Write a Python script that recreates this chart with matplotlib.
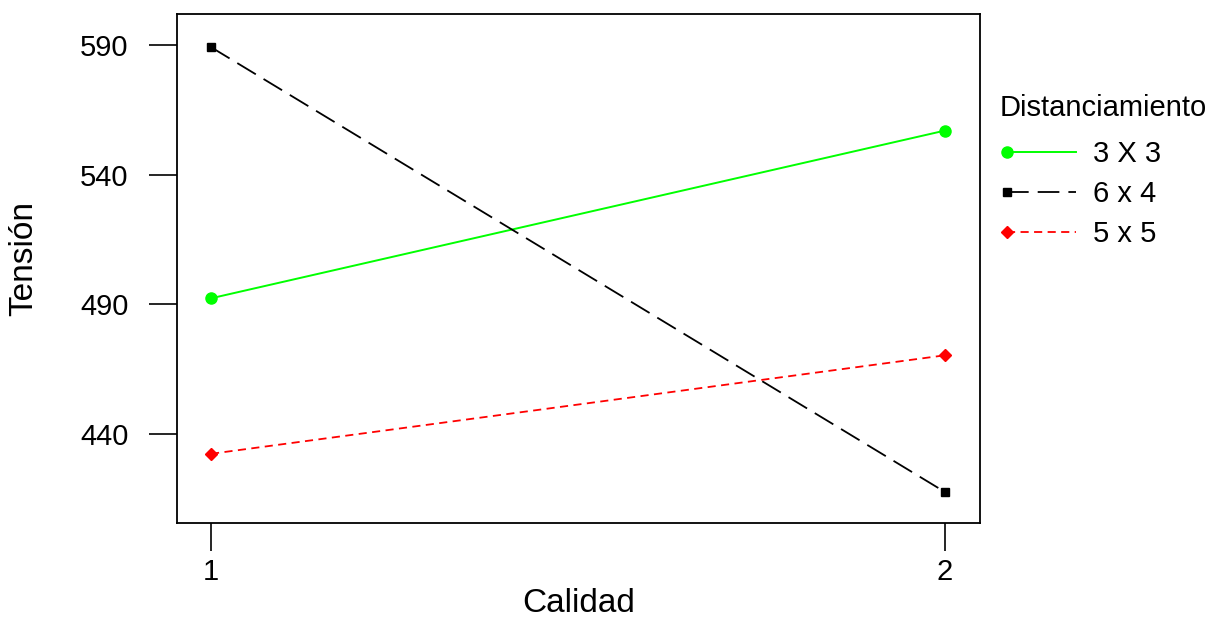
import matplotlib
matplotlib.use("Agg")
import numpy as np
import matplotlib.pyplot as plt
from matplotlib.lines import Line2D
from matplotlib.legend_handler import HandlerLine2D

plt.rcParams['font.family'] = ['Liberation Sans', 'DejaVu Sans']

calidad = [1, 2]
series_names = ["3 X 3", "6 x 4", "5 x 5"]
v_3x3 = [492.3, 557.0]
v_6x4 = [589.2, 417.6]
v_5x5 = [432.3, 470.3]

yticks = [440, 490, 540, 590]
xticks = [1, 2]


class LeftMarkerHandler(HandlerLine2D):
    def create_artists(self, legend, orig_handle, xdescent, ydescent, width,
                       height, fontsize, trans):
        xdata = np.array([-xdescent, -xdescent + width])
        ydata = np.full_like(xdata, (height - ydescent) / 2)
        line = Line2D(xdata, ydata)
        self.update_prop(line, orig_handle, legend)
        line.set_marker("")
        mk = Line2D(xdata[:1], ydata[:1])
        self.update_prop(mk, orig_handle, legend)
        mk.set_linestyle("None")
        line.set_transform(trans)
        mk.set_transform(trans)
        return [line, mk]


fig = plt.figure(figsize=(12.15, 6.2), dpi=100)
ax = fig.add_axes([177/1215, 97/620, (980-177)/1215, (523-14)/620])

ax.plot(calidad, v_3x3, color='#00ff00', lw=1.4, marker='o', ms=8,
        mec='#00ff00', mfc='#00ff00', label=series_names[0])
ax.plot(calidad, v_6x4, color='black', lw=1.3, ls=(0, (12, 5)), marker='s', ms=5.5,
        label=series_names[1])
ax.plot(calidad, v_5x5, color='#ff0000', lw=1.3, ls=(0, (4.5, 3)), marker='D', ms=6.5,
        label=series_names[2])

ax.set_xlim(0.9536, 2.048)
ax.set_ylim(405.6, 602.0)
ax.set_xticks(xticks)
ax.set_yticks(yticks)
ax.tick_params(axis='both', direction='out', length=20, width=1.2, labelsize=21)
ax.tick_params(axis='y', pad=15)
ax.tick_params(axis='x', pad=5)
for s in ax.spines.values():
    s.set_linewidth(1.3)

ax.set_xlabel("Calidad", fontsize=24)
ax.set_ylabel("Tensión", fontsize=24)
ax.xaxis.set_label_coords(0.5, -0.128)
ax.yaxis.set_label_coords(-0.172, 0.52)

fig.text(1000/1215, 1-108/620, "Distanciamiento", fontsize=21, ha='left', va='center')

handles, labels = ax.get_legend_handles_labels()
leg = fig.legend(handles, labels, loc='upper left',
                 bbox_to_anchor=(1007/1215, 1-140/620), frameon=False, fontsize=21,
                 handlelength=2.35, handletextpad=0.6,
                 labelspacing=0.42, borderpad=0, borderaxespad=0,
                 handler_map={h: LeftMarkerHandler() for h in handles})

fig.savefig("out.png", dpi=100)
